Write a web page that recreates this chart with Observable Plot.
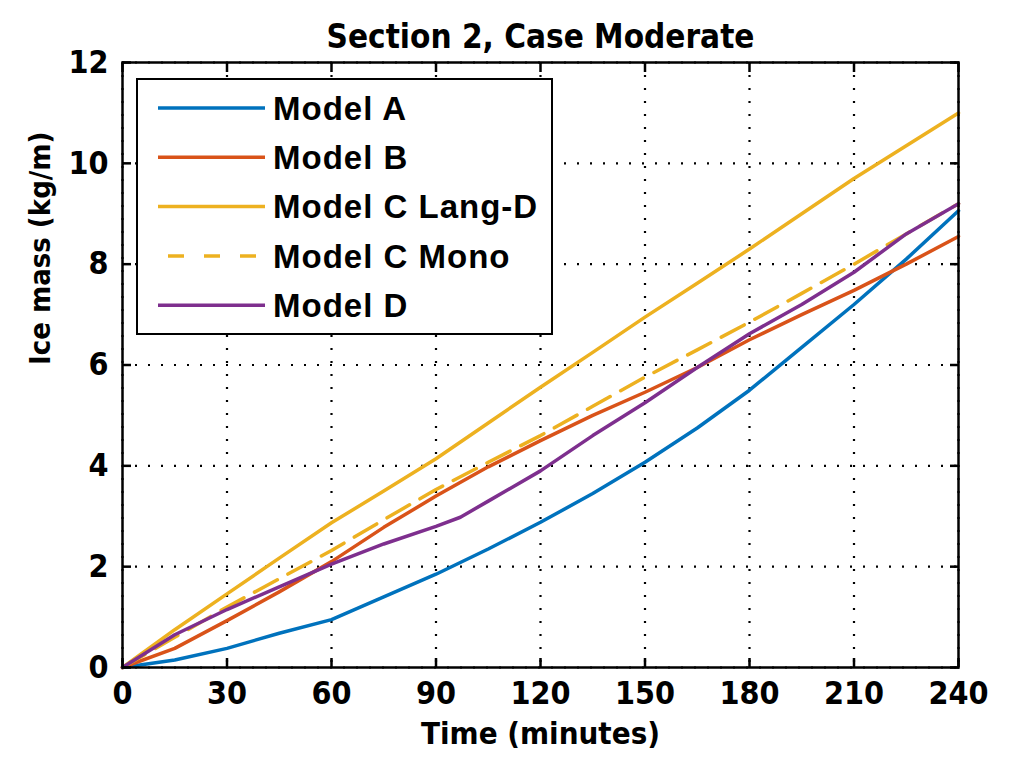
<!DOCTYPE html>
<html><head><meta charset="utf-8">
<script src="https://cdn.jsdelivr.net/npm/d3@7"></script>
<script src="https://cdn.jsdelivr.net/npm/@observablehq/plot@0.6"></script>
<style>body{margin:0;background:#fff;} #chart{position:relative;width:1010px;height:761px;}</style>
</head><body><div id="chart"></div>
<script>
const titleText = "Section 2, Case Moderate";
const xLabel = "Time (minutes)";
const yLabel = "Ice mass (kg/m)";
const xTicks = [0, 30, 60, 90, 120, 150, 180, 210, 240];
const yTicks = [0, 2, 4, 6, 8, 10, 12];

const seriesNames = ["Model A", "Model B", "Model C Lang-D", "Model C Mono", "Model D"];
const seriesColors = ["#0072BD", "#D95319", "#EDB120", "#EDB120", "#7E2F8E"];
const seriesDashed = [false, false, false, true, false];

const timeCommon = [0, 15, 30, 45, 60, 75, 90, 105, 120, 135, 150, 165, 180, 195, 210, 225, 240];
const modelA = [0, 0.15, 0.38, 0.68, 0.95, 1.4, 1.85, 2.35, 2.88, 3.45, 4.07, 4.75, 5.5, 6.35, 7.2, 8.1, 9.06];
const modelB = [0, 0.38, 0.93, 1.5, 2.1, 2.78, 3.4, 3.98, 4.5, 5.0, 5.46, 5.95, 6.5, 7.0, 7.48, 8.0, 8.55];
const modelCLang = [0, 0.75, 1.46, 2.17, 2.87, 3.5, 4.14, 4.85, 5.56, 6.25, 6.95, 7.62, 8.3, 9.0, 9.7, 10.35, 11.0];
const modelCMono = [0, 0.6, 1.2, 1.76, 2.32, 2.93, 3.53, 4.07, 4.6, 5.18, 5.76, 6.3, 6.85, 7.42, 8.0, 8.6, 9.2];
const timeD = [0, 15, 30, 45, 60, 75, 90, 97, 105, 120, 135, 150, 165, 180, 195, 210, 225, 240];
const modelD = [0, 0.65, 1.15, 1.6, 2.05, 2.45, 2.8, 2.98, 3.3, 3.9, 4.6, 5.25, 5.95, 6.62, 7.2, 7.84, 8.6, 9.2];

const seriesTimes = [timeCommon, timeCommon, timeCommon, timeCommon, timeD];
const seriesValues = [modelA, modelB, modelCLang, modelCMono, modelD];

const rows = [];
seriesNames.forEach((name, i) => {
  seriesValues[i].forEach((v, j) => rows.push({series: name, t: seriesTimes[i][j], v}));
});

const narrow = "'DejaVu Sans Condensed', 'Liberation Sans', sans-serif";
const wide = "'Liberation Sans', Arial, sans-serif";
const gridStyle = {stroke: "black", strokeOpacity: 1, strokeWidth: 2.2, strokeDasharray: "2,11"};
const fmt = d => String(d);

const lineMarks = seriesNames.map((name, i) =>
  Plot.line(rows.filter(d => d.series === name), {
    x: "t", y: "v", stroke: seriesColors[i], strokeWidth: 3.5,
    strokeDasharray: seriesDashed[i] ? "26,12" : null
  })
);

const plot = Plot.plot({
  width: 1010, height: 761,
  marginLeft: 122, marginRight: 52, marginTop: 62, marginBottom: 94,
  style: {fontFamily: narrow, fontWeight: "bold", background: "white", color: "black"},
  x: {domain: [0, 240]},
  y: {domain: [0, 12]},
  marks: [
    Plot.gridX(xTicks, gridStyle),
    Plot.gridY(yTicks, gridStyle),
    ...lineMarks,
    Plot.frame({stroke: "black", strokeWidth: 2.5}),
    Plot.axisX(xTicks, {anchor: "bottom", tickSize: -9, tickPadding: 23, fontSize: 32, label: null, strokeWidth: 2.5, tickFormat: fmt}),
    Plot.axisX(xTicks, {anchor: "top", tickSize: -9, tickFormat: () => "", label: null, strokeWidth: 2.5}),
    Plot.axisY(yTicks, {anchor: "left", tickSize: -9, tickPadding: 23, fontSize: 32, label: null, strokeWidth: 2.5, tickFormat: fmt}),
    Plot.axisY(yTicks, {anchor: "right", tickSize: -9, tickFormat: () => "", label: null, strokeWidth: 2.5}),
    Plot.text([titleText], {frameAnchor: "top", dy: -38, fontSize: 33, fontWeight: "bold", fontFamily: narrow}),
    Plot.text([xLabel], {frameAnchor: "bottom", dy: 76, fontSize: 31, fontWeight: "bold", fontFamily: narrow}),
    Plot.text([yLabel], {frameAnchor: "left", dx: -82, rotate: -90, fontSize: 29, fontWeight: "bold", fontFamily: narrow})
  ]
});
document.getElementById("chart").appendChild(plot);

// Legend inside the plot area
const svg = d3.select(plot);
const lg = svg.append("g").attr("font-family", wide).attr("font-weight", "bold").attr("text-anchor", "start");
lg.append("rect").attr("x", 137).attr("y", 79).attr("width", 415).attr("height", 255)
  .attr("fill", "white").attr("stroke", "black").attr("stroke-width", 2);
seriesNames.forEach((name, i) => {
  const cy = 108 + i * 49.3;
  lg.append("line").attr("x1", seriesDashed[i] ? 168 : 158).attr("x2", 265).attr("y1", cy).attr("y2", cy)
    .attr("stroke", seriesColors[i]).attr("stroke-width", 3.5)
    .attr("stroke-dasharray", seriesDashed[i] ? "16,20" : null);
  lg.append("text").attr("x", 273).attr("y", cy).attr("dy", "0.36em").attr("text-anchor", "start")
    .attr("font-size", 33).attr("letter-spacing", "1px").attr("fill", "black").text(name);
});
</script>
</body></html>
